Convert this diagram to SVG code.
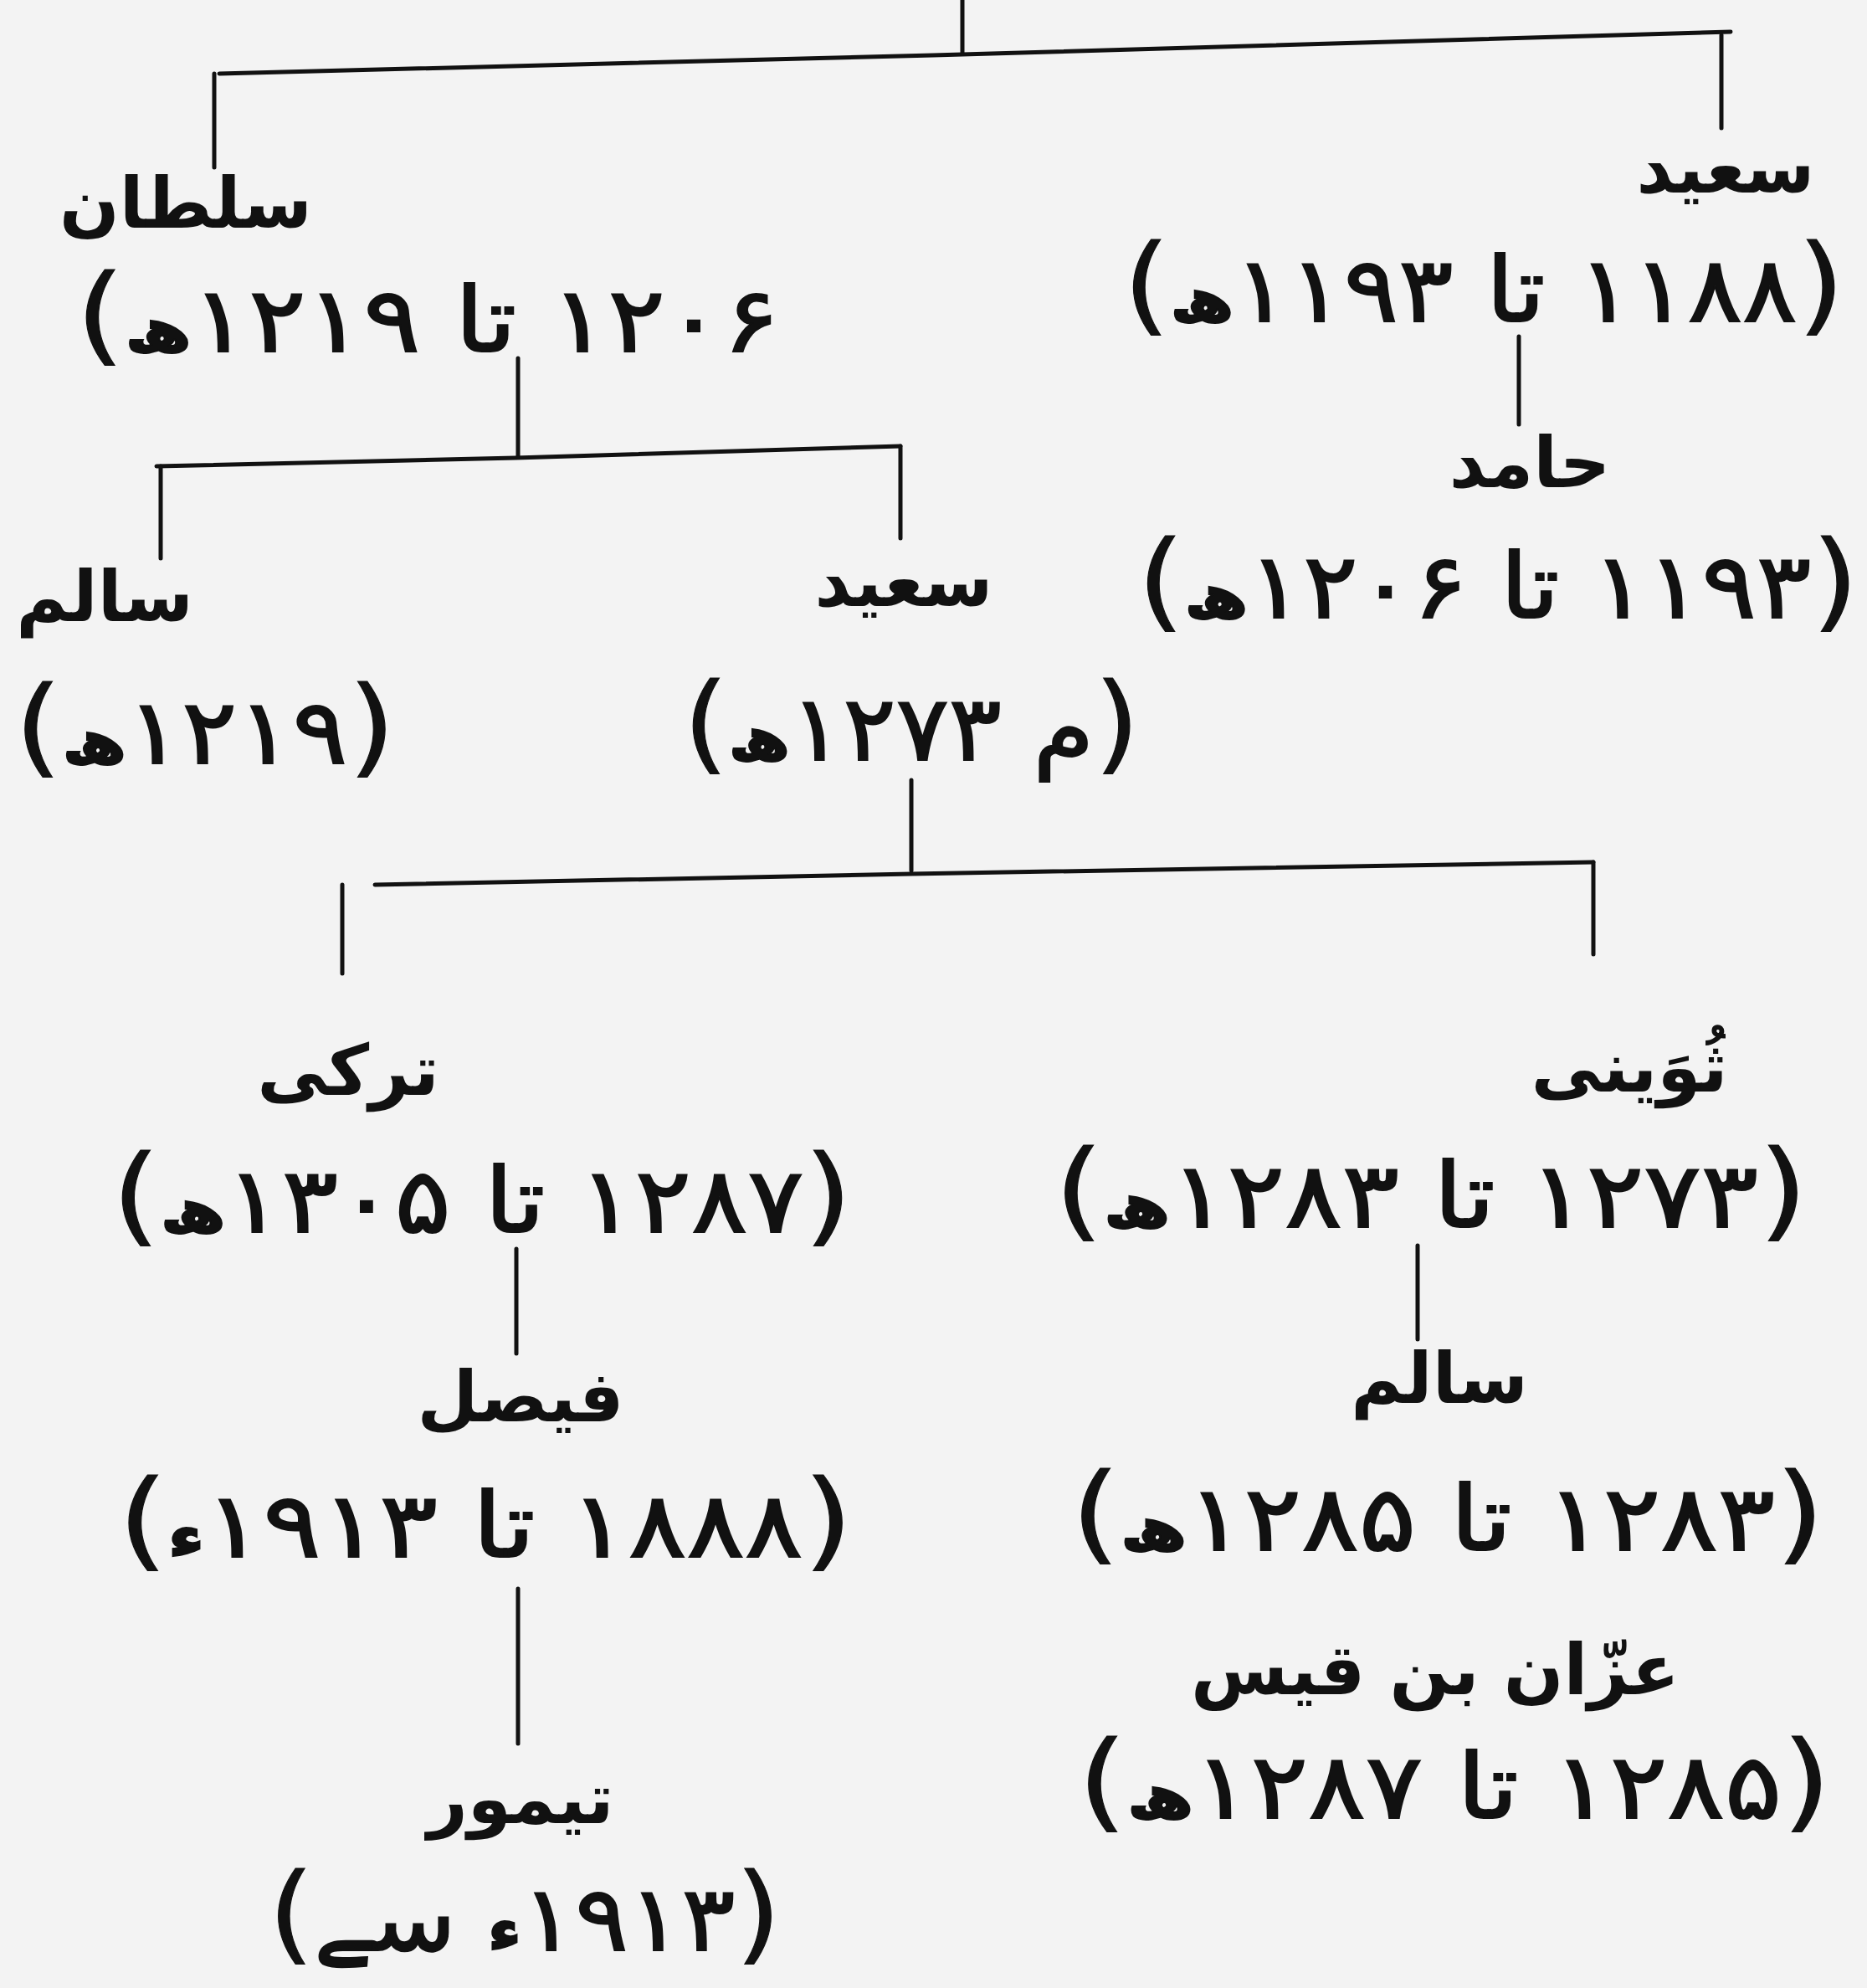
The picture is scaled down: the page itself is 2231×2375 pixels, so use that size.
<svg xmlns="http://www.w3.org/2000/svg" width="2231" height="2375" viewBox="0 0 2231 2375">
<style>
.bg{fill:#f3f3f3}
.ln{stroke:#111;stroke-width:5;fill:none;stroke-linecap:round}
text{font-family:"DejaVu Sans",sans-serif;fill:#111;direction:rtl;text-anchor:middle}
.nm{font-size:84px;font-weight:bold}
.dt{font-size:108px;font-weight:normal;stroke:#111;stroke-width:2}
.p{font-size:128px;stroke-width:1}
.h{font-size:72px;font-weight:bold}
</style>
<rect class="bg" x="0" y="0" width="2231" height="2375"/>
<g id="connectors">
<path class="ln" d="M1150 0 V64"/>
<path class="ln" d="M262 88 L1115 66 L2068 38"/>
<path class="ln" d="M256 88 V200"/>
<path class="ln" d="M2057 42 V153"/>
<path class="ln" d="M1815 402 V507"/>
<path class="ln" d="M619 428 V545"/>
<path class="ln" d="M187 557 L616 547 L1076 533"/>
<path class="ln" d="M192 557 V667"/>
<path class="ln" d="M1076 533 V643"/>
<path class="ln" d="M1089 932 V1040"/>
<path class="ln" d="M448 1057 L1089 1044 L1904 1030"/>
<path class="ln" d="M409 1057 V1163"/>
<path class="ln" d="M1904 1030 V1140"/>
<path class="ln" d="M617 1492 V1617"/>
<path class="ln" d="M1694 1488 V1600"/>
<path class="ln" d="M619 1898 V2083"/>
</g>
<g id="n-saeed-1">
<text class="nm" x="2062" y="230">سعید</text>
<text class="dt" transform="translate(1773 0) scale(1.13 1)" x="0" y="384"><tspan class="p">(</tspan>۱۱۸۸ تا ۱۱۹۳<tspan class="h">ھ</tspan><tspan class="p">)</tspan></text>
</g>
<g id="n-hamed">
<text class="nm" x="1828" y="582">حامد</text>
<text class="dt" transform="translate(1790 0) scale(1.13 1)" x="0" y="738"><tspan class="p">(</tspan>۱۱۹۳ تا ۱۲۰۶<tspan class="h">ھ</tspan><tspan class="p">)</tspan></text>
</g>
<g id="n-sultan">
<text class="nm" x="222" y="272">سلطان</text>
<text class="dt" transform="translate(511 0) scale(1.18 1)" x="0" y="420">۱۲۰۶ تا ۱۲۱۹<tspan class="h">ھ</tspan><tspan class="p">)</tspan></text>
</g>
<g id="n-salem-1">
<text class="nm" x="125" y="742">سالم</text>
<text class="dt" transform="translate(245 0) scale(1.14 1)" x="0" y="912"><tspan class="p">(</tspan>۱۲۱۹<tspan class="h">ھ</tspan><tspan class="p">)</tspan></text>
</g>
<g id="n-saeed-2">
<text class="nm" x="1080" y="724">سعید</text>
<text class="dt" transform="translate(1089 0) scale(1.09 1)" x="0" y="908"><tspan class="p">(</tspan>م ۱۲۷۳<tspan class="h">ھ</tspan><tspan class="p">)</tspan></text>
</g>
<g id="n-turki">
<text class="nm" x="416" y="1308">ترکی</text>
<text class="dt" transform="translate(576 0) scale(1.16 1)" x="0" y="1472"><tspan class="p">(</tspan>۱۲۸۷ تا ۱۳۰۵<tspan class="h">ھ</tspan><tspan class="p">)</tspan></text>
</g>
<g id="n-thuwaini">
<text class="nm" x="1947" y="1304">ثُوَینی</text>
<text class="dt" transform="translate(1710 0) scale(1.18 1)" x="0" y="1466"><tspan class="p">(</tspan>۱۲۷۳ تا ۱۲۸۳<tspan class="h">ھ</tspan><tspan class="p">)</tspan></text>
</g>
<g id="n-faisal">
<text class="nm" x="622" y="1698">فیصل</text>
<text class="dt" transform="translate(580 0) scale(1.2 1)" x="0" y="1860"><tspan class="p">(</tspan>۱۸۸۸ تا ۱۹۱۳<tspan class="h">ء</tspan><tspan class="p">)</tspan></text>
</g>
<g id="n-salem-2">
<text class="nm" x="1720" y="1676">سالم</text>
<text class="dt" transform="translate(1730 0) scale(1.18 1)" x="0" y="1852"><tspan class="p">(</tspan>۱۲۸۳ تا ۱۲۸۵<tspan class="h">ھ</tspan><tspan class="p">)</tspan></text>
</g>
<g id="n-azzan">
<text class="nm" x="1715" y="2024">عزّان بن قیس</text>
<text class="dt" transform="translate(1738 0) scale(1.18 1)" x="0" y="2172"><tspan class="p">(</tspan>۱۲۸۵ تا ۱۲۸۷<tspan class="h">ھ</tspan><tspan class="p">)</tspan></text>
</g>
<g id="n-taimur">
<text class="nm" x="622" y="2178">تیمور</text>
<text class="dt" transform="translate(627 0) scale(1.1 1)" x="0" y="2330"><tspan class="p">(</tspan>۱۹۱۳<tspan class="h">ء</tspan> سے<tspan class="p">)</tspan></text>
</g>
</svg>
